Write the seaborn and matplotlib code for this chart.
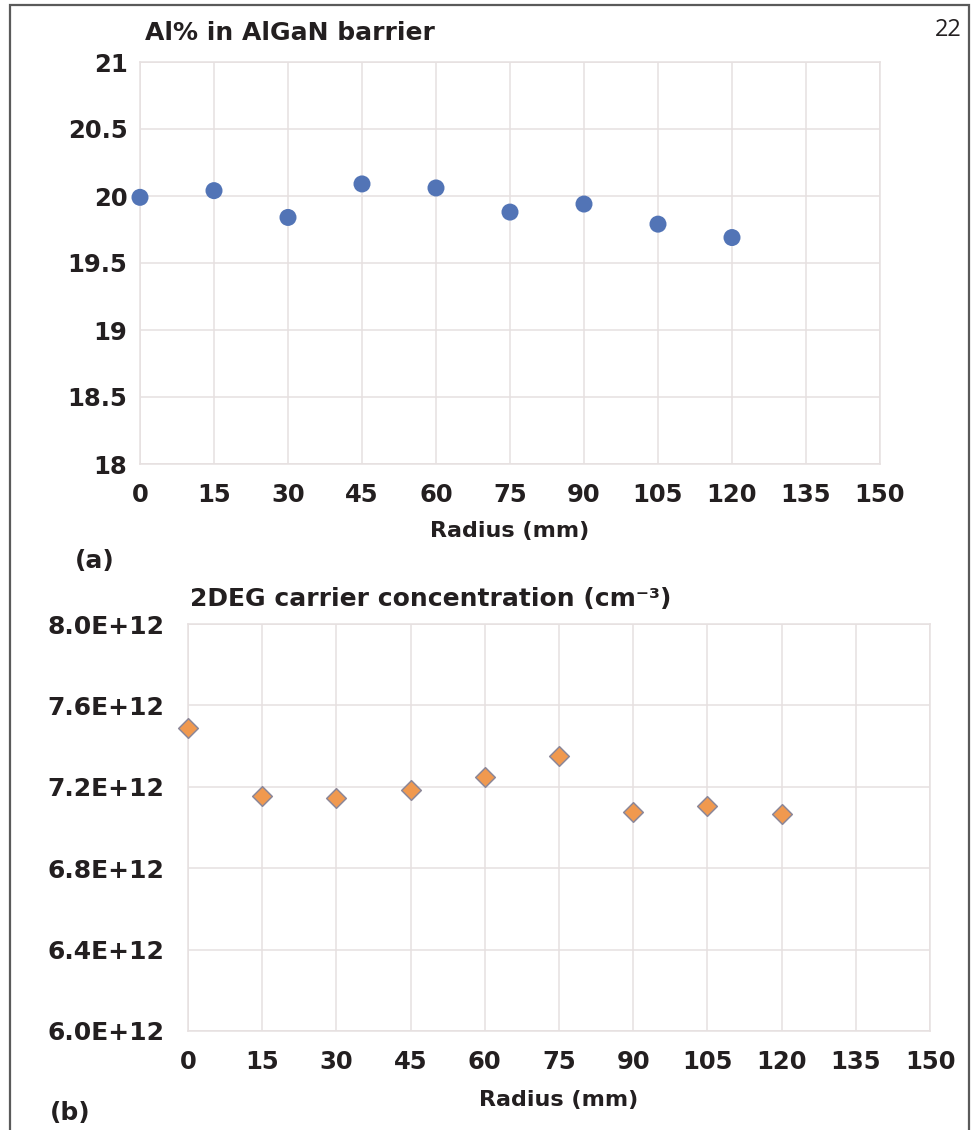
import matplotlib
matplotlib.use("Agg")
import matplotlib.pyplot as plt
import seaborn as sns
import pandas as pd
from matplotlib.patches import Rectangle

# data
radius = [0, 15, 30, 45, 60, 75, 90, 105, 120]
al_pct = [19.99, 20.04, 19.84, 20.09, 20.06, 19.88, 19.94, 19.79, 19.69]
n_2deg = [7.49e12, 7.155e12, 7.145e12, 7.185e12, 7.25e12, 7.35e12, 7.075e12, 7.105e12, 7.065e12]

x_ticks = [0, 15, 30, 45, 60, 75, 90, 105, 120, 135, 150]
al_ticks = [18, 18.5, 19, 19.5, 20, 20.5, 21]
al_labels = ['18', '18.5', '19', '19.5', '20', '20.5', '21']
n_ticks = [6.0e12, 6.4e12, 6.8e12, 7.2e12, 7.6e12, 8.0e12]
n_labels = ['6.0E+12', '6.4E+12', '6.8E+12', '7.2E+12', '7.6E+12', '8.0E+12']

sns.set_style("white")
plt.rcParams['font.family'] = ['DejaVu Sans']

GRID = '#e6e0e0'
INK = '#231f20'
W, H = 975, 1130

fig = plt.figure(figsize=(W / 100, H / 100), dpi=100)


def px_axes(left, top, right, bottom):
    return fig.add_axes([left / W, 1 - bottom / H, (right - left) / W, (bottom - top) / H])


def style_axes(ax, yticks, ylabels, ypad, ysize):
    ax.set_xlim(0, 150)
    ax.set_ylim(yticks[0], yticks[-1])
    ax.set_xticks(x_ticks)
    ax.set_xticklabels([str(t) for t in x_ticks], fontsize=17.5, fontweight='bold', color=INK)
    ax.set_yticks(yticks)
    ax.set_yticklabels(ylabels, fontsize=ysize, fontweight='bold', color=INK)
    ax.tick_params(axis='x', length=0, pad=14)
    ax.tick_params(axis='y', length=0, pad=ypad)
    ax.grid(True, color=GRID, lw=1.1)
    for s in ax.spines.values():
        s.set_color(GRID)
        s.set_linewidth(1.1)
    ax.set_axisbelow(True)


# panel (a)
ax1 = px_axes(140, 62, 880, 464)
df_a = pd.DataFrame({'radius': radius, 'al': al_pct})
sns.scatterplot(data=df_a, x='radius', y='al', ax=ax1, s=150, color='#5274b6',
                edgecolor='none', marker='o', clip_on=False, zorder=3)
style_axes(ax1, al_ticks, al_labels, 9, 17.5)
ax1.set_xlabel('Radius (mm)', fontsize=16, fontweight='bold', color=INK, labelpad=10)
ax1.set_ylabel('')
fig.text(145 / W, 1 - 33 / H, 'Al% in AlGaN barrier', fontsize=18, fontweight='bold',
         color=INK, ha='left', va='center')
fig.text(75 / W, 1 - 561 / H, '(a)', fontsize=18, fontweight='bold', color=INK,
         ha='left', va='center')

# panel (b)
ax2 = px_axes(188, 624, 930, 1031)
df_b = pd.DataFrame({'radius': radius, 'n': n_2deg})
sns.scatterplot(data=df_b, x='radius', y='n', ax=ax2, s=100, color='#f0994f',
                edgecolor='#8c8798', linewidth=1.1, marker='D', clip_on=False, zorder=3)
style_axes(ax2, n_ticks, n_labels, 17, 18)
ax2.set_xlabel('Radius (mm)', fontsize=16, fontweight='bold', color=INK, labelpad=11)
ax2.set_ylabel('')
fig.text(190 / W, 1 - 599 / H, '2DEG carrier concentration (cm⁻³)', fontsize=18,
         fontweight='bold', color=INK, ha='left', va='center')
fig.text(50 / W, 1 - 1113 / H, '(b)', fontsize=18, fontweight='bold', color=INK,
         ha='left', va='center')

# page number and page frame
fig.text(962 / W, 1 - 30 / H, '22', fontsize=17, color=INK, ha='right', va='center',
         family=['Open Sans', 'DejaVu Sans'])
fig.add_artist(Rectangle((10 / W, -0.02), 959 / W, 1.02 - 5 / H, transform=fig.transFigure,
                         fill=False, edgecolor='#5a5a5a', lw=1.6))

fig.savefig('out.png', dpi=100)
